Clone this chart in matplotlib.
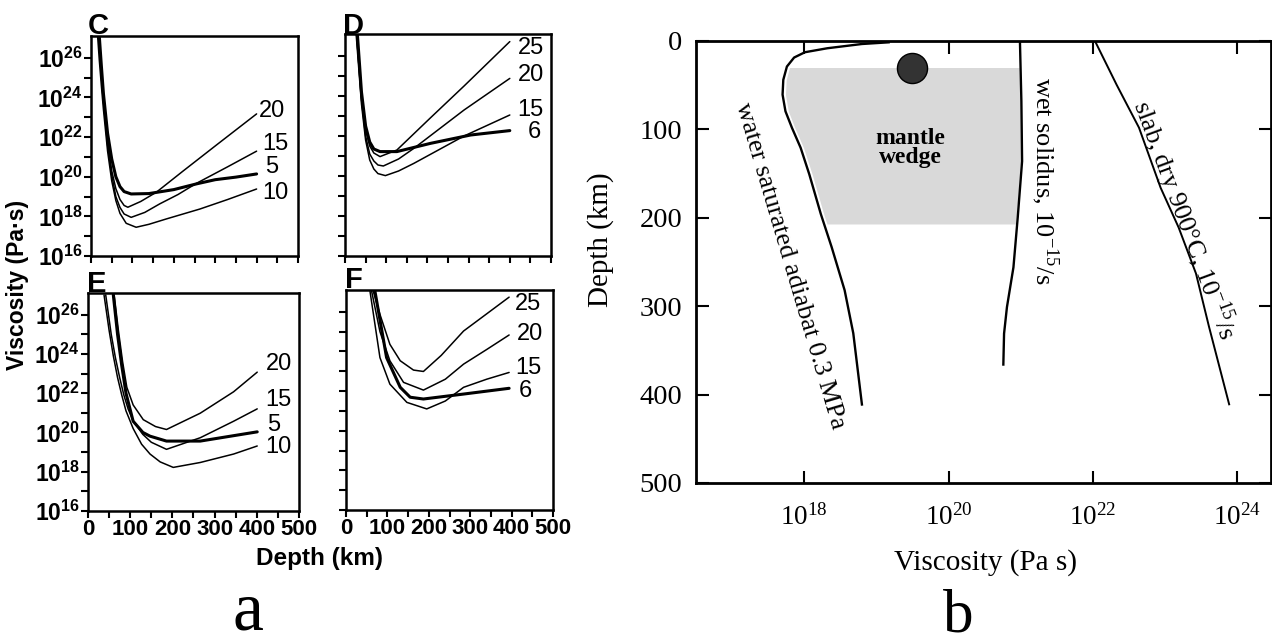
import numpy as np
import matplotlib
matplotlib.use("Agg")
import matplotlib.pyplot as plt
from matplotlib import font_manager
from matplotlib.ticker import NullLocator

# ---- panel a data : depth (km) and log10 viscosity (Pa s) ----
c5_d = [20, 25, 30, 40, 50, 60, 70, 80, 97, 140, 200, 255, 300, 350, 400]
c5_v = [27.1, 25.6, 24.2, 22.2, 20.9, 20.0, 19.5, 19.25, 19.13, 19.15, 19.35, 19.64, 19.85, 19.98, 20.14]
c20_d = [19, 25, 30, 40, 50, 60, 70, 80, 89, 120, 158, 222, 303, 400]
c20_v = [27.1, 25.3, 23.9, 21.8, 20.3, 19.4, 18.85, 18.55, 18.46, 18.75, 19.22, 20.28, 21.6, 23.17]
c15_d = [18, 25, 30, 40, 50, 60, 70, 80, 97, 130, 166, 210, 255, 330, 400]
c15_v = [27.1, 25.1, 23.8, 21.6, 20.1, 19.0, 18.45, 18.12, 17.95, 18.2, 18.63, 19.1, 19.67, 20.5, 21.29]
c10_d = [16, 20, 25, 30, 40, 50, 60, 70, 85, 109, 140, 182, 263, 330, 400]
c10_v = [27.1, 25.9, 24.6, 23.4, 21.3, 19.8, 18.8, 18.15, 17.65, 17.45, 17.6, 17.87, 18.37, 18.85, 19.38]

d6_d = [30, 40, 50, 60, 70, 85, 126, 207, 305, 400]
d6_v = [27.1, 24.2, 22.5, 21.7, 21.35, 21.22, 21.22, 21.63, 22.05, 22.27]
d25_d = [29, 40, 50, 60, 70, 85, 126, 207, 289, 400]
d25_v = [27.1, 24.0, 22.3, 21.5, 21.15, 20.97, 21.3, 22.9, 24.5, 26.72]
d20_d = [28, 40, 50, 60, 70, 80, 93, 130, 167, 289, 400]
d20_v = [27.1, 23.8, 22.0, 21.1, 20.75, 20.55, 20.5, 20.85, 21.38, 23.3, 24.88]
d15_d = [27, 40, 50, 60, 70, 80, 98, 130, 167, 289, 400]
d15_v = [27.1, 23.6, 21.8, 20.8, 20.35, 20.12, 20.02, 20.25, 20.63, 22.0, 23.05]

e10_d = [38, 50, 60, 70, 80, 90, 107, 127, 147, 171, 202, 266, 345, 401]
e10_v = [27.0, 25.2, 23.9, 22.8, 21.9, 21.1, 20.2, 19.4, 18.9, 18.5, 18.22, 18.47, 18.9, 19.31]
e15_d = [42, 55, 65, 75, 85, 95, 107, 130, 150, 186, 266, 345, 401]
e15_v = [27.0, 25.0, 23.8, 22.8, 21.9, 21.2, 20.6, 19.9, 19.5, 19.14, 19.73, 20.57, 21.2]
e5_d = [60, 70, 80, 90, 107, 130, 147, 186, 266, 401]
e5_v = [27.0, 25.0, 23.4, 22.0, 20.57, 20.0, 19.81, 19.56, 19.56, 20.03]
e20_d = [62, 72, 82, 92, 107, 131, 160, 186, 266, 345, 401]
e20_v = [27.0, 25.2, 23.6, 22.3, 21.4, 20.65, 20.3, 20.15, 20.98, 22.07, 23.07]

f25_d = [66, 82, 106, 131, 163, 187, 230, 284, 340, 394]
f25_v = [27.03, 25.87, 24.36, 23.53, 23.06, 22.99, 23.8, 25.03, 25.9, 26.74]
f20_d = [62, 82, 106, 139, 187, 240, 284, 340, 394]
f20_v = [27.03, 25.0, 23.53, 22.44, 22.05, 22.6, 23.36, 24.1, 24.83]
f15_d = [58, 82, 106, 147, 195, 240, 284, 340, 394]
f15_v = [27.03, 23.69, 22.35, 21.43, 21.1, 21.5, 22.19, 22.6, 22.94]
f6_d = [70, 98, 131, 155, 187, 284, 394]
f6_v = [27.03, 23.69, 22.19, 21.69, 21.6, 21.85, 22.14]

# curve labels: (text, depth, log10 viscosity)
c_labels = [("20", 405, 23.34), ("15", 413, 21.66), ("5", 421, 20.48), ("10", 413, 19.17)]
d_labels = [("25", 419, 26.38), ("20", 419, 25.05), ("15", 419, 23.3), ("6", 443, 22.2)]
e_labels = [("20", 421, 23.49), ("15", 421, 21.65), ("5", 425, 20.4), ("10", 421, 19.28)]
f_labels = [("25", 409, 26.37), ("20", 413, 24.86), ("15", 409, 23.16), ("6", 417, 21.99)]

# ---- panel b data : log10 viscosity vs depth (km) ----
water_v = [19.17, 18.8, 18.32, 18.01, 17.86, 17.76, 17.71, 17.7, 17.74, 17.83, 17.95, 18.07, 18.23, 18.38, 18.56, 18.68, 18.8]
water_d = [1.5, 3.4, 8.2, 12.7, 18.7, 28.9, 43.9, 60.7, 79.5, 98.2, 120.7, 150.7, 195.7, 233.1, 281.9, 330.6, 411.2]
solidus_v = [20.99, 21.01, 21.02, 20.96, 20.9, 20.81, 20.77, 20.76]
solidus_d = [0, 68, 136, 199, 256, 301, 331, 366]
slab_v = [22.03, 22.33, 22.64, 22.94, 23.19, 23.43, 23.61, 23.89]
slab_d = [0, 49.5, 98, 166, 211, 263, 323, 411]
wedge_top, wedge_bottom = 30, 207
dot_v, dot_d = 19.5, 30

names = {f.name for f in font_manager.fontManager.ttflist}
sans = "Liberation Sans Narrow" if "Liberation Sans Narrow" in names else "Liberation Sans"
serif = "Liberation Serif"

plt.rcParams["mathtext.fontset"] = "custom"
plt.rcParams["mathtext.rm"] = serif
plt.rcParams["mathtext.bf"] = sans + ":bold"
plt.rcParams["mathtext.sf"] = sans

W, H = 1272, 643
fig = plt.figure(figsize=(W / 100, H / 100), dpi=100)


def px_axes(x0, y0, x1, y1):
    return fig.add_axes([x0 / W, 1 - y1 / H, (x1 - x0) / W, (y1 - y0) / H])


def setup_a(ax, ylab, xlab):
    ax.set_yscale("log")
    ax.set_xlim(0, 500)
    ax.set_ylim(1e16, 10 ** 27.1)
    ax.set_xticks(range(0, 501, 100))
    ax.set_xticks(range(50, 500, 100), minor=True)
    ex = np.arange(16, 27, 2)
    ax.set_yticks(10.0 ** ex)
    ax.set_yticks(10.0 ** np.arange(17, 27, 2), minor=True)
    if ylab:
        ax.set_yticklabels([r"$\mathbf{10^{%d}}$" % e for e in ex], fontsize=16.5)
    else:
        ax.set_yticklabels([])
    if xlab:
        ax.set_xticklabels([str(v) for v in range(0, 501, 100)], fontsize=16,
                           fontweight="bold", family=sans)
    else:
        ax.set_xticklabels([])
    ax.yaxis.set_minor_formatter(plt.NullFormatter())
    ax.tick_params(which="both", direction="out", length=5, width=1.5, pad=1)
    for s in ax.spines.values():
        s.set_linewidth(1.8)


def draw_curves(ax, curves, labels):
    for d, v, lw in curves:
        ax.plot(d, 10.0 ** np.array(v), color="black", lw=lw, solid_capstyle="round")
    for t, d, v in labels:
        ax.text(d, 10.0 ** v, t, ha="left", va="center", fontsize=17, family=sans)


axC = px_axes(91, 36, 298, 256)
setup_a(axC, True, False)
draw_curves(axC, [(c20_d, c20_v, 1.1), (c15_d, c15_v, 1.1), (c10_d, c10_v, 1.1), (c5_d, c5_v, 2.2)], c_labels)

axD = px_axes(345, 34, 551, 256)
setup_a(axD, False, False)
draw_curves(axD, [(d25_d, d25_v, 1.1), (d20_d, d20_v, 1.1), (d15_d, d15_v, 1.1), (d6_d, d6_v, 2.2)], d_labels)

axE = px_axes(88, 293, 299, 511)
setup_a(axE, True, True)
draw_curves(axE, [(e20_d, e20_v, 1.1), (e15_d, e15_v, 1.1), (e10_d, e10_v, 1.1), (e5_d, e5_v, 2.2)], e_labels)

axF = px_axes(346, 290, 553, 510)
setup_a(axF, False, True)
draw_curves(axF, [(f25_d, f25_v, 1.1), (f20_d, f20_v, 1.1), (f15_d, f15_v, 1.1), (f6_d, f6_v, 2.2)], f_labels)

for letter, x, y in [("C", 88, 34), ("D", 343, 34), ("E", 87, 292), ("F", 345, 288)]:
    fig.text(x / W, 1 - y / H, letter, fontsize=21, fontweight="bold", family=sans,
             ha="left", va="baseline")

fig.text(18 / W, 1 - 285 / H, "Viscosity (Pa·s)", rotation=90, fontsize=16.5,
         fontweight="bold", family=sans, ha="center", va="center")
fig.text(320 / W, 1 - 558 / H, "Depth (km)", fontsize=17.5, fontweight="bold",
         family=sans, ha="center", va="center")
fig.text(248 / W, 1 - 630 / H, "a", fontsize=50, family=serif, ha="center", va="baseline")

# ---- panel b ----
axb = px_axes(696, 41, 1271, 483)
axb.set_xscale("log")
axb.set_xlim(10 ** 16.5, 10 ** 24.47)
axb.set_ylim(500, 0)
dd = np.arange(wedge_top, wedge_bottom + 1)
left = np.interp(dd, water_d, water_v) + 0.04
right = np.interp(dd, solidus_d, solidus_v) - 0.02
axb.fill_betweenx(dd, 10.0 ** left, 10.0 ** right, color="#d9d9d9", lw=0, zorder=1)
axb.plot(10.0 ** np.array(water_v), water_d, color="black", lw=1.7, zorder=3)
axb.plot(10.0 ** np.array(solidus_v), solidus_d, color="black", lw=1.7, zorder=3)
axb.plot(10.0 ** np.array(slab_v), slab_d, color="black", lw=1.4, zorder=3)
axb.scatter([10 ** dot_v], [dot_d], s=470, color="#333333", edgecolors="black", zorder=4)
axb.text(10 ** 19.47, 121, "mantle\nwedge", fontsize=17, fontweight="bold", family=serif,
         ha="center", va="center", linespacing=0.85, zorder=5)
axb.text(10 ** 17.8, 254, "water saturated adiabat 0.3 MPa", rotation=-73.5,
         rotation_mode="anchor", fontsize=19, family=serif, ha="center", va="center")
axb.text(10 ** 21.33, 158, "wet solidus, 10$^{-15}$/s", rotation=-90,
         rotation_mode="anchor", fontsize=19, family=serif, ha="center", va="center")
axb.text(10 ** 23.28, 202, "slab, dry 900°C, 10$^{-15}$/s", rotation=-69.7,
         rotation_mode="anchor", fontsize=19, family=serif, ha="center", va="center")

xt = [18, 20, 22, 24]
axb.set_xticks([10.0 ** e for e in xt])
axb.set_xticklabels([r"$\mathrm{10^{%d}}$" % e for e in xt], fontsize=19.5)
axb.xaxis.set_minor_locator(NullLocator())
axb.set_yticks(range(0, 501, 100))
axb.set_yticklabels([str(v) for v in range(0, 501, 100)], fontsize=20.5, family=serif)
axb.tick_params(direction="in", length=9, width=1.5, top=True, right=True)
axb.tick_params(axis="y", pad=10)
axb.tick_params(axis="x", pad=15)
for s in axb.spines.values():
    s.set_linewidth(2)

fig.text(601 / W, 1 - 240 / H, "Depth (km)", rotation=90, fontsize=21, family=serif,
         ha="center", va="center")
fig.text(985 / W, 1 - 563 / H, "Viscosity (Pa s)", fontsize=21, family=serif,
         ha="center", va="center")
fig.text(958 / W, 1 - 631 / H, "b", fontsize=44, family=serif, ha="center", va="baseline")

fig.savefig("out.png", dpi=100)
